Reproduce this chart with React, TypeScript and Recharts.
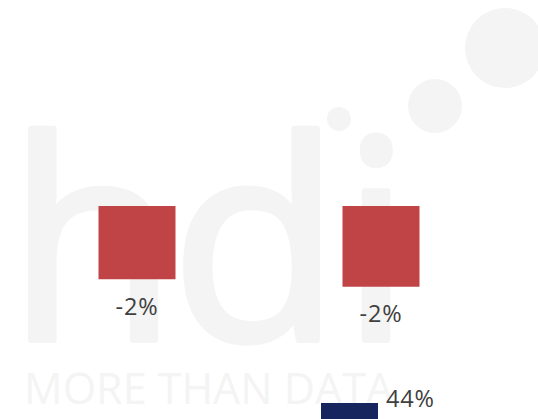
import { Bar, BarChart, LabelList, XAxis, YAxis } from 'recharts';

// declines (red) and the share (navy)
const declineCategories = ['A', 'B'];
const declineValues = [-1.9, -2.1];
const shareCategories = ['C'];
const shareValues = [44];

const declineData = declineCategories.map((name, i) => ({ name, value: declineValues[i] }));
const shareData = shareCategories.map((name, i) => ({ name, value: shareValues[i] }));

const LABEL_FONT = '"Open Sans", sans-serif';
const MARK_GREY = '#f4f4f4';

const pct = (v: number) => `${Math.round(v)}%`;

const DeclineLabel = (props: any) => {
  const { x, y, width, height, value } = props;
  const bottom = Math.max(y, y + height);
  return (
    <text
      x={x + width / 2}
      y={bottom + 35.5}
      textAnchor="middle"
      fontFamily={LABEL_FONT}
      fontSize={23.5}
      letterSpacing={0.8}
      fill="#404040"
    >
      {pct(value)}
    </text>
  );
};

const ShareLabel = (props: any) => {
  const { x, y, width, value } = props;
  return (
    <text
      x={x + width + 8}
      y={y + 4}
      textAnchor="start"
      fontFamily={LABEL_FONT}
      fontSize={23.5}
      letterSpacing={0.8}
      fill="#404040"
    >
      {pct(value)}
    </text>
  );
};

// faint "hdi MORE THAN DATA" watermark behind the bars
const Watermark = () => (
  <svg width={538} height={419} style={{ position: 'absolute', left: 0, top: 0 }}>
    <circle cx={505} cy={48} r={40} fill={MARK_GREY} />
    <circle cx={435} cy={106} r={27} fill={MARK_GREY} />
    <circle cx={339} cy={119} r={12} fill={MARK_GREY} />
    <text
      y={340}
      fontFamily={LABEL_FONT}
      fontSize={278}
      fill={MARK_GREY}
      stroke={MARK_GREY}
      strokeWidth={6}
      strokeLinejoin="round"
    >
      <tspan x={7.3}>h</tspan>
      <tspan x={170.7}>d</tspan>
      <tspan x={341}>i</tspan>
    </text>
    <text x={24} y={404} fontFamily={LABEL_FONT} fontSize={43} fill={MARK_GREY}>
      MORE THAN DATA
    </text>
  </svg>
);

export default function App() {
  return (
    <div
      style={{
        position: 'absolute',
        left: 0,
        top: 0,
        width: 538,
        height: 419,
        overflow: 'hidden',
        background: '#fff',
      }}
    >
      <Watermark />
      <div style={{ position: 'absolute', left: 0, top: 0 }}>
        <BarChart
          width={538}
          height={419}
          data={declineData}
          margin={{ top: 206, right: 35.5, bottom: 20.5, left: 14.5 }}
        >
          <XAxis dataKey="name" hide />
          <YAxis hide domain={[-5, 0]} />
          <Bar dataKey="value" fill="#c04446" barSize={77} isAnimationActive={false}>
            <LabelList dataKey="value" content={<DeclineLabel />} />
          </Bar>
        </BarChart>
      </div>
      <div style={{ position: 'absolute', left: 0, top: 0 }}>
        <BarChart
          width={538}
          height={600}
          data={shareData}
          margin={{ top: 403, right: 139, bottom: 0, left: 300 }}
        >
          <XAxis dataKey="name" hide />
          <YAxis hide domain={[0, 44]} />
          <Bar dataKey="value" fill="#17255f" barSize={57} isAnimationActive={false}>
            <LabelList dataKey="value" content={<ShareLabel />} />
          </Bar>
        </BarChart>
      </div>
    </div>
  );
}
